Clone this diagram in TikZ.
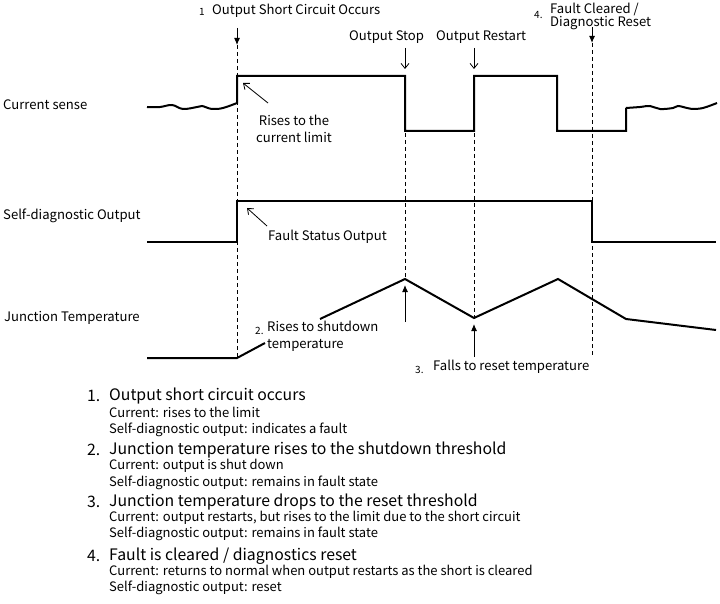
\documentclass[tikz,border=0pt]{standalone}
\usepackage{fontspec}
\setmainfont{Noto Sans CJK JP}
\usetikzlibrary{arrows.meta, positioning}

\tikzset{
  sig/.style={line width=2pt, line join=miter},
  guide/.style={line width=0.8pt, dash pattern=on 4pt off 3pt},
  evtarrow/.style={line width=1pt, -{Latex[length=7pt, width=6pt]}},
  pointer/.style={line width=0.8pt, -{Straight Barb[length=5pt, width=8pt]}},
  lbl/.style={inner sep=0pt, font=\fontsize{13.1}{17}\selectfont},
  numlbl/.style={inner sep=0pt, font=\fontsize{10}{11}\selectfont},
  head/.style={inner sep=0pt, anchor=west, font=\fontsize{15.8}{18}\selectfont},
  sub/.style={inner sep=0pt, anchor=west, font=\fontsize{13}{15}\selectfont},
}

\begin{document}
\begin{tikzpicture}[x=1pt, y=-1pt]
    \useasboundingbox (0,0) rectangle (720,604);

    % row labels
    \node [lbl, anchor=west] (cur) at (3,105) {Current sense};
    \node [lbl, anchor=west] (diag) at (3,216) {Self-diagnostic Output};
    \node [lbl, anchor=west] (temp) at (4,318) {Junction Temperature};

    % event labels on top
    \node [numlbl, anchor=west] (n1) at (199,12) {1};
    \node [lbl, anchor=west] (short) at (212,11) {Output Short Circuit Occurs};
    \node [lbl, anchor=west] (stop) at (349,37) {Output Stop};
    \node [lbl, anchor=west] (restart) at (436,37) {Output Restart};
    \node [numlbl, anchor=west] (n4) at (534,15) {4.};
    \node [lbl, anchor=north west, align=left, font=\fontsize{13.1}{12.5}\selectfont] (clear) at (550,3) {Fault Cleared /\\Diagnostic Reset};

    % time points
    \coordinate (a0) at (237,28);  \coordinate (a1) at (237,45);  \coordinate (a2) at (237,358);
    \coordinate (b0) at (405,48);  \coordinate (b1) at (405,69);  \coordinate (b2) at (405,133); \coordinate (b3) at (405,279);
    \coordinate (c0) at (474,48);  \coordinate (c1) at (474,69);  \coordinate (c2) at (474,133); \coordinate (c3) at (474,318);
    \coordinate (d0) at (592,27);  \coordinate (d1) at (592,43);  \coordinate (d2) at (592,357);

    \draw [evtarrow] (a0) -- (a1);
    \draw [evtarrow] (d0) -- (d1);
    \draw [pointer] (b0) -- (b1);
    \draw [pointer] (c0) -- (c1);
    \draw [guide] (a1) -- (a2);
    \draw [guide] (d1) -- (d2);
    \draw [guide] (b2) -- (b3);
    \draw [guide] (c2) -- (c3);

    % current sense
    \draw [sig] plot [smooth, tension=0.6] coordinates {(147,107) (160,107) (172,105) (183,109) (197,107) (202,106) (212,109) (223,108) (237,103)}
        -- (237,76) -- (405,76) -- (405,131) -- (474,131) -- (474,76) -- (557,76) -- (557,131) -- (626,131) -- (626,108);
    \draw [sig] plot [smooth, tension=0.6] coordinates {(626,108) (640,107) (650,106) (660,109) (673,108) (678,106) (687,108) (692,109) (703,108) (717,103)};

    % self-diagnostic output
    \draw [sig] (147,242) -- (237,242) -- (237,201) -- (592,201) -- (592,242) -- (716,242);

    % junction temperature
    \draw [sig] (147,358) -- (237,358) -- (265,343);
    \draw [sig] (320,319) -- (405,279) -- (474,318) -- (558,279) -- (626,319) -- (716,330);

    % annotations
    \node [lbl, align=center] (limit) at (294,129) {Rises to the\\current limit};
    \coordinate (limtail) at (268,103); \coordinate (limtip) at (243,83);
    \draw [pointer] (limtail) -- (limtip);

    \node [lbl, anchor=west] (fault) at (268,237) {Fault Status Output};
    \coordinate (flttail) at (267,226); \coordinate (flttip) at (247,208);
    \draw [pointer] (flttail) -- (flttip);

    \node [numlbl, anchor=west] (n2) at (255,331) {2.};
    \node [lbl, anchor=north west, align=left] (shut) at (267,321) {Rises to shutdown\\temperature};
    \coordinate (s0) at (405,322); \coordinate (s1) at (405,285);
    \draw [evtarrow] (s0) -- (s1);

    \node [numlbl, anchor=west] (n3) at (415,370) {3.};
    \node [lbl, anchor=west] (reset) at (433,367) {Falls to reset temperature};
    \coordinate (r0) at (474,357); \coordinate (r1) at (474,324);
    \draw [evtarrow] (r0) -- (r1);

    % legend
    \node [head] (l1) at (87,396) {1.};
    \node [head] (h1) at (109,396) {Output short circuit occurs};
    \node [sub] (h1a) at (109,412) {Current: rises to the limit};
    \node [sub] (h1b) at (109,430) {Self-diagnostic output: indicates a fault};
    \node [head] (l2) at (87,450) {2.};
    \node [head] (h2) at (109,450) {Junction temperature rises to the shutdown threshold};
    \node [sub] (h2a) at (109,466) {Current: output is shut down};
    \node [sub] (h2b) at (109,483) {Self-diagnostic output: remains in fault state};
    \node [head] (l3) at (87,502) {3.};
    \node [head] (h3) at (109,502) {Junction temperature drops to the reset threshold};
    \node [sub] (h3a) at (109,518) {Current: output restarts, but rises to the limit due to the short circuit};
    \node [sub] (h3b) at (109,534) {Self-diagnostic output: remains in fault state};
    \node [head] (l4) at (87,556) {4.};
    \node [head] (h4) at (109,556) {Fault is cleared / diagnostics reset};
    \node [sub] (h4a) at (109,572) {Current: returns to normal when output restarts as the short is cleared};
    \node [sub] (h4b) at (109,588) {Self-diagnostic output: reset};
\end{tikzpicture}
\end{document}
